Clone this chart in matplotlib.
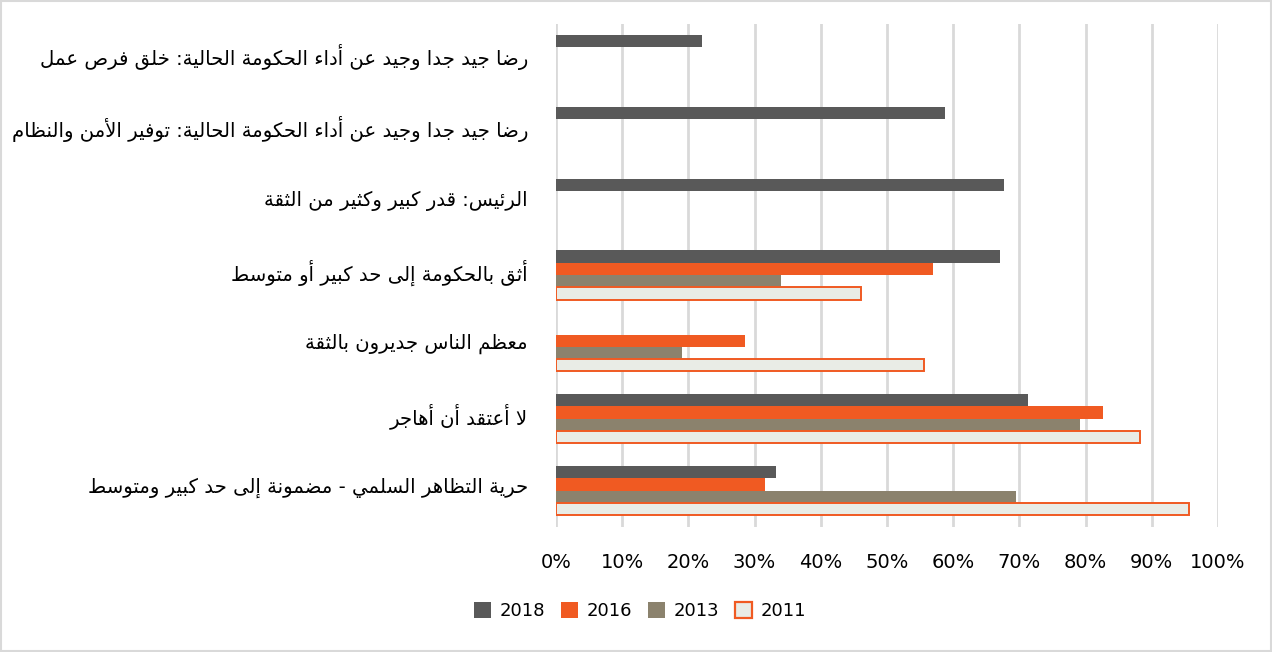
import numpy as np
import matplotlib
matplotlib.use("Agg")
import matplotlib.pyplot as plt
from matplotlib.patches import Rectangle, Patch
from matplotlib.transforms import ScaledTranslation

# ---------------- data ----------------
categories = [
    "رضا جيد جدا وجيد عن أداء الحكومة الحالية: خلق فرص عمل",
    "رضا جيد جدا وجيد عن أداء الحكومة الحالية: توفير الأمن والنظام",
    "الرئيس: قدر كبير وكثير من الثقة",
    "أثق بالحكومة إلى حد كبير أو متوسط",
    "معظم الناس جديرون بالثقة",
    "لا أعتقد أن أهاجر",
    "حرية التظاهر السلمي - مضمونة إلى حد كبير ومتوسط",
]
series_names = ["2018", "2016", "2013", "2011"]
v2018 = [22.0, 58.7, 67.7, 67.0, np.nan, 71.3, 33.3]
v2016 = [np.nan, np.nan, np.nan, 57.0, 28.5, 82.6, 31.5]
v2013 = [np.nan, np.nan, np.nan, 34.0, 19.0, 79.1, 69.5]
v2011 = [np.nan, np.nan, np.nan, 46.1, 55.6, 88.2, 95.6]
xticks = [0, 10, 20, 30, 40, 50, 60, 70, 80, 90, 100]
xtick_labels = ["0%", "10%", "20%", "30%", "40%", "50%", "60%", "70%", "80%", "90%", "100%"]

# ---------------- Arabic shaping (presentation forms + visual order) ----------------
FORMS = {  # isolated, final, initial, medial
    '\u0621': ('\uFE80', None, None, None),
    '\u0622': ('\uFE81', '\uFE82', None, None),
    '\u0623': ('\uFE83', '\uFE84', None, None),
    '\u0624': ('\uFE85', '\uFE86', None, None),
    '\u0625': ('\uFE87', '\uFE88', None, None),
    '\u0626': ('\uFE89', '\uFE8A', '\uFE8B', '\uFE8C'),
    '\u0627': ('\uFE8D', '\uFE8E', None, None),
    '\u0628': ('\uFE8F', '\uFE90', '\uFE91', '\uFE92'),
    '\u0629': ('\uFE93', '\uFE94', None, None),
    '\u062A': ('\uFE95', '\uFE96', '\uFE97', '\uFE98'),
    '\u062B': ('\uFE99', '\uFE9A', '\uFE9B', '\uFE9C'),
    '\u062C': ('\uFE9D', '\uFE9E', '\uFE9F', '\uFEA0'),
    '\u062D': ('\uFEA1', '\uFEA2', '\uFEA3', '\uFEA4'),
    '\u062E': ('\uFEA5', '\uFEA6', '\uFEA7', '\uFEA8'),
    '\u062F': ('\uFEA9', '\uFEAA', None, None),
    '\u0630': ('\uFEAB', '\uFEAC', None, None),
    '\u0631': ('\uFEAD', '\uFEAE', None, None),
    '\u0632': ('\uFEAF', '\uFEB0', None, None),
    '\u0633': ('\uFEB1', '\uFEB2', '\uFEB3', '\uFEB4'),
    '\u0634': ('\uFEB5', '\uFEB6', '\uFEB7', '\uFEB8'),
    '\u0635': ('\uFEB9', '\uFEBA', '\uFEBB', '\uFEBC'),
    '\u0636': ('\uFEBD', '\uFEBE', '\uFEBF', '\uFEC0'),
    '\u0637': ('\uFEC1', '\uFEC2', '\uFEC3', '\uFEC4'),
    '\u0638': ('\uFEC5', '\uFEC6', '\uFEC7', '\uFEC8'),
    '\u0639': ('\uFEC9', '\uFECA', '\uFECB', '\uFECC'),
    '\u063A': ('\uFECD', '\uFECE', '\uFECF', '\uFED0'),
    '\u0641': ('\uFED1', '\uFED2', '\uFED3', '\uFED4'),
    '\u0642': ('\uFED5', '\uFED6', '\uFED7', '\uFED8'),
    '\u0643': ('\uFED9', '\uFEDA', '\uFEDB', '\uFEDC'),
    '\u0644': ('\uFEDD', '\uFEDE', '\uFEDF', '\uFEE0'),
    '\u0645': ('\uFEE1', '\uFEE2', '\uFEE3', '\uFEE4'),
    '\u0646': ('\uFEE5', '\uFEE6', '\uFEE7', '\uFEE8'),
    '\u0647': ('\uFEE9', '\uFEEA', '\uFEEB', '\uFEEC'),
    '\u0648': ('\uFEED', '\uFEEE', None, None),
    '\u0649': ('\uFEEF', '\uFEF0', None, None),
    '\u064A': ('\uFEF1', '\uFEF2', '\uFEF3', '\uFEF4'),
}
LAM_ALEF = {'\u0622': ('\uFEF5', '\uFEF6'), '\u0623': ('\uFEF7', '\uFEF8'),
            '\u0625': ('\uFEF9', '\uFEFA'), '\u0627': ('\uFEFB', '\uFEFC')}


def joins_left(c):
    f = FORMS.get(c)
    return f is not None and f[2] is not None


def joins_right(c):
    f = FORMS.get(c)
    return f is not None and f[1] is not None


def shape_arabic(text):
    chars = list(text)
    out = []
    i = 0
    n = len(chars)
    while i < n:
        c = chars[i]
        prev = chars[i - 1] if i > 0 else None
        prev_joins = prev is not None and joins_left(prev)
        if c == '\u0644' and i + 1 < n and chars[i + 1] in LAM_ALEF:
            iso, fin = LAM_ALEF[chars[i + 1]]
            out.append(fin if prev_joins else iso)
            i += 2
            continue
        if c not in FORMS:
            out.append(c)
            i += 1
            continue
        iso, fin, ini, med = FORMS[c]
        nxt = chars[i + 1] if i + 1 < n else None
        next_joins = nxt is not None and joins_right(nxt) and ini is not None
        can_prev = prev_joins and fin is not None
        if can_prev and next_joins:
            out.append(med)
        elif can_prev:
            out.append(fin)
        elif next_joins:
            out.append(ini)
        else:
            out.append(iso)
        i += 1
    return ''.join(reversed(out))


# ---------------- figure ----------------
plt.rcParams['font.family'] = ['DejaVu Sans']
fig = plt.figure(figsize=(12.72, 6.52), dpi=100)
ax = fig.add_axes([556 / 1272, 1 - 526.5 / 652, (1218 - 556) / 1272, (526.5 - 23.5) / 652])

colors = ["#595959", "#F05A22", "#8B826D", "#E9ECE6"]
edges = ["none", "none", "none", "#F05A22"]
lws = [0, 0, 0, 1.4]
all_vals = [v2018, v2016, v2013, v2011]
h = 0.171
offsets = [-1.5 * h, -0.5 * h, 0.5 * h, 1.5 * h]
y = np.arange(len(categories))

for vals, col, ec, lw, off in zip(all_vals, colors, edges, lws, offsets):
    vals = np.array(vals, dtype=float)
    mask = ~np.isnan(vals)
    ax.barh(y[mask] + off, vals[mask], height=h, color=col, edgecolor=ec,
            linewidth=lw, zorder=3)

ax.set_xlim(0, 100)
ax.set_ylim(len(categories) - 0.5, -0.5)
ax.set_xticks(xticks)
ax.set_xticklabels(xtick_labels, fontsize=14, color="#000000")
ax.set_yticks(y)
ax.set_yticklabels([])
ax.tick_params(axis='both', length=0)
ax.tick_params(axis='x', pad=19)
ax.xaxis.grid(True, color="#D9D9D9", linewidth=2, zorder=0)
ax.set_axisbelow(True)
for s in ax.spines.values():
    s.set_visible(False)

label_tr = ax.get_yaxis_transform() + ScaledTranslation(-28 / 100, 2.5 / 100, fig.dpi_scale_trans)
for yi, cat in zip(y, categories):
    ax.text(0, yi, shape_arabic(cat), transform=label_tr, ha='right', va='center',
            fontsize=14.1, color="#000000")

handles = [Patch(facecolor=c, edgecolor=(e if e != "none" else c), linewidth=(1.6 if e != "none" else 0))
           for c, e in zip(colors, edges)]
fig.legend(handles, series_names, loc='center', bbox_to_anchor=(640 / 1272, 1 - 611 / 652),
           ncol=4, frameon=False, fontsize=13.0, handlelength=0.95, handleheight=0.95,
           handletextpad=0.45, columnspacing=0.9)

fig.add_artist(Rectangle((0.0008, 0.0012), 0.9984, 0.9976, transform=fig.transFigure,
                         facecolor="none", edgecolor="#D9D9D9", linewidth=1.5))

fig.savefig("out.png", dpi=100, facecolor="white")
